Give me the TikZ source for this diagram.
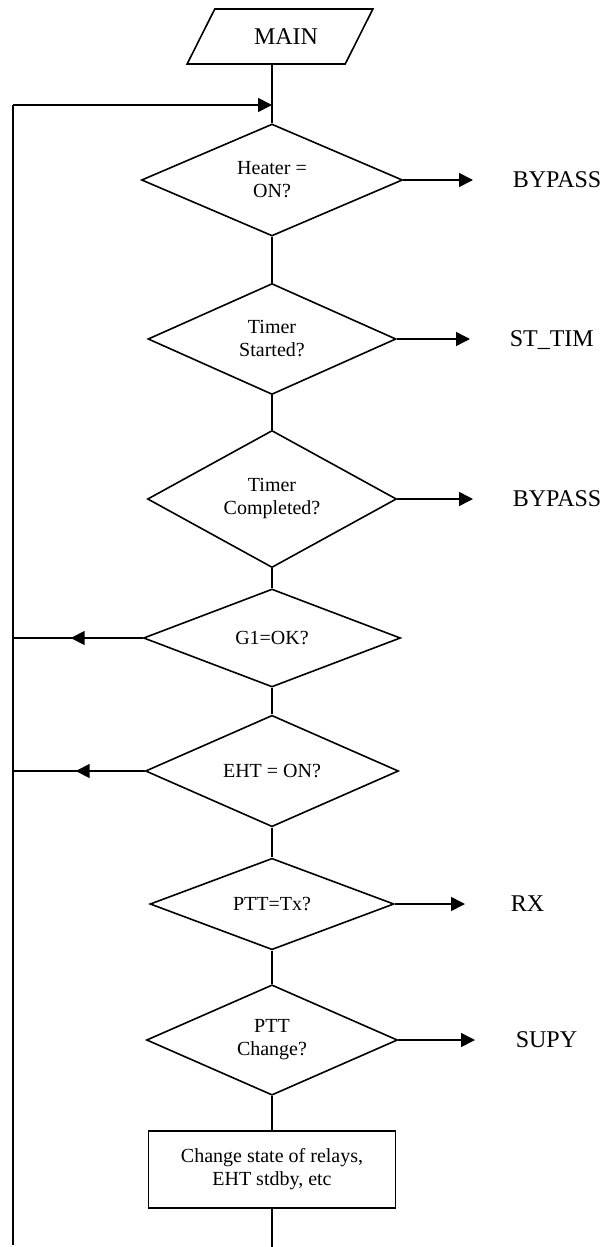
\documentclass[tikz,border=0pt]{standalone}
\usepackage{fontspec}
\setmainfont{Liberation Serif}
\usetikzlibrary{shapes.geometric,arrows.meta}

\tikzset{
  decision/.style={draw, diamond, inner sep=0pt, align=center, font=\fontsize{10}{11.5}\selectfont},
  exit/.style={anchor=west, inner sep=0pt, text depth=0pt, font=\fontsize{12}{14}\selectfont},
  arr/.style={-{Triangle[length=7pt,width=7pt]}},
}

\begin{document}
\begin{tikzpicture}[x=0.5pt, y=-0.5pt, line width=0.8pt]
\useasboundingbox (0,0) rectangle (608,1247);

% start
\node[draw, trapezium, trapezium left angle=57, trapezium right angle=123, trapezium stretches=true,
  minimum width=93pt, minimum height=27.5pt, font=\fontsize{12}{14}\selectfont] (main) at (280,36.5) {\hspace{6pt}MAIN};

% decisions
\node[decision, minimum width=130.5pt, minimum height=56pt] (heater) at (272,180) {Heater =\\ON?};
\node[decision, minimum width=124pt, minimum height=55.5pt] (started) at (272,339) {Timer\\Started?};
\node[decision, minimum width=124.5pt, minimum height=55.5pt] (completed) at (272,499) {Timer\\Completed?};
\node[decision, minimum width=128.5pt, minimum height=49pt] (g1) at (272,638) {G1=OK?};
\node[decision, minimum width=126.5pt, minimum height=50.5pt] (eht) at (272,771) {EHT = ON?};
\node[decision, minimum width=122pt, minimum height=44.5pt] (ptttx) at (272,904) {PTT=Tx?};
\node[decision, minimum width=125.5pt, minimum height=52pt] (pttchg) at (272,1040) {PTT\\Change?};
\node[draw, align=center, minimum width=123.5pt, minimum height=38.5pt, font=\fontsize{10}{11.5}\selectfont] (relays) at (272,1169.5) {Change state of relays,\\EHT stdby, etc};

% exits
\node[exit] (bypassA) at (512,180) {BYPASS};
\node[exit] (sttim) at (509,339) {ST\_TIM};
\node[exit] (bypassB) at (512,499) {BYPASS};
\node[exit] (rx) at (510,904) {RX};
\node[exit] (supy) at (515,1040) {SUPY};

\coordinate (looptop) at (13,105);
\coordinate (loopend) at (13,1245);
\coordinate (bottom) at (272,1247);

% main line
\draw (heater.north |- main.south) -- (heater.north);
\draw (heater) -- (started);
\draw (started) -- (completed);
\draw (completed) -- (g1);
\draw (g1) -- (eht);
\draw (eht) -- (ptttx);
\draw (ptttx) -- (pttchg);
\draw (pttchg) -- (relays);
\draw (relays) -- (bottom);

\draw[arr, shorten >=19.5pt] (heater.east) -- (bypassA.west);
\draw[arr, shorten >=19.5pt] (started.east) -- (sttim.west);
\draw[arr, shorten >=19.5pt] (completed.east) -- (bypassB.west);
\draw[arr, shorten >=22.5pt] (ptttx.east) -- (rx.west);
\draw[arr, shorten >=20pt] (pttchg.east) -- (supy.west);

% loop back
\draw (loopend) -- (looptop);
\draw[arr] (looptop) -- (looptop -| heater.north);
\draw (g1.west) -- (g1.west -| loopend);
\draw[arr] (g1.west) -- ++(-72,0);
\draw (eht.west) -- (eht.west -| loopend);
\draw[arr] (eht.west) -- ++(-69,0);
\end{tikzpicture}
\end{document}
